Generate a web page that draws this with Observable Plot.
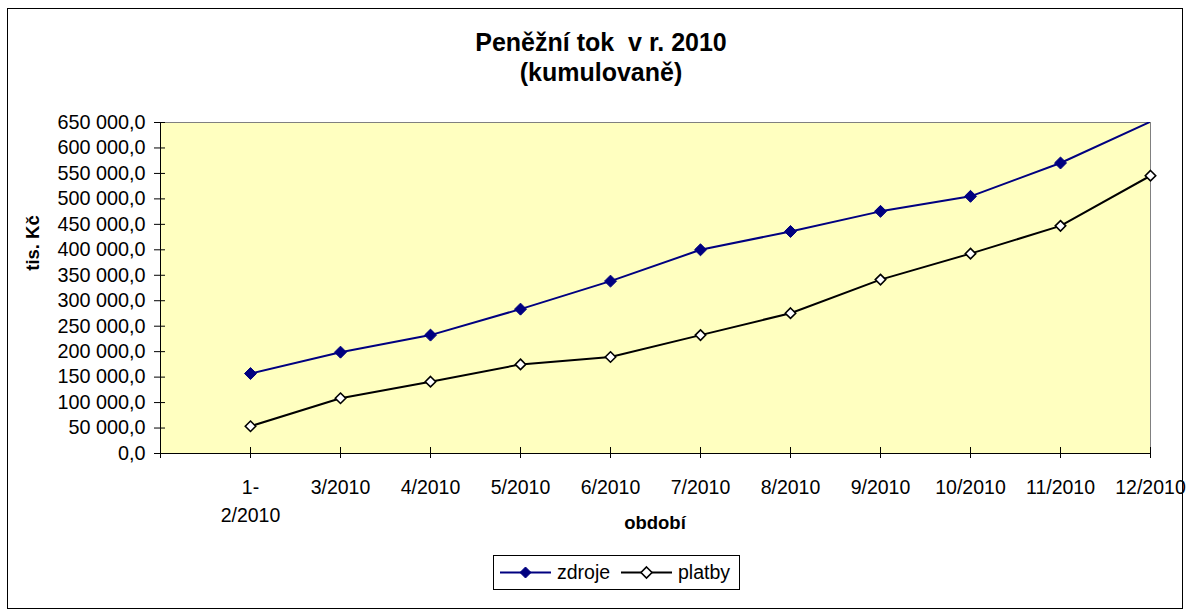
<!DOCTYPE html>
<html>
<head>
<meta charset="utf-8">
<script src="https://cdn.jsdelivr.net/npm/d3@7"></script>
<script src="https://cdn.jsdelivr.net/npm/@observablehq/plot@0.6"></script>
<style>
  body { margin: 0; background: #fff; font-family: Arial, "Liberation Sans", sans-serif; }
  #wrap { position: relative; width: 1190px; height: 616px; overflow: hidden; background: #fff; }
  #border { position: absolute; left: 7px; top: 8px; width: 1176px; height: 601px; border: 1px solid #000; box-sizing: border-box; }
  #chart { position: absolute; left: 0; top: 0; }
  #title { position: absolute; left: 11px; width: 1180px; top: 27px; text-align: center; font-weight: bold; font-size: 25px; line-height: 30px; white-space: pre; color: #000; }
  #ylabel { position: absolute; left: -27px; width: 120px; top: 233px; height: 20px; line-height: 20px; text-align: center; font-weight: bold; font-size: 18.5px; transform: rotate(-90deg); transform-origin: 50% 50%; color: #000; }
  #xlabel { position: absolute; left: 555px; width: 200px; top: 512px; line-height: 22px; text-align: center; font-weight: bold; font-size: 18.5px; color: #000; }
  #legend { position: absolute; left: 493px; top: 555px; width: 247px; height: 35px; border: 1px solid #000; box-sizing: border-box; background: #fff; }
</style>
</head>
<body>
<div id="wrap">
  <div id="border"></div>
  <div id="chart"></div>
  <div id="title"></div>
  <div id="ylabel"></div>
  <div id="xlabel"></div>
  <div id="legend"></div>
</div>
<script>
// ---- data ----
const titleLines = ["Peněžní tok  v r. 2010", "(kumulovaně)"];
const yTitle = "tis. Kč";
const xTitle = "období";
const seriesNames = ["zdroje", "platby"];
const categories = ["1-2/2010", "3/2010", "4/2010", "5/2010", "6/2010", "7/2010", "8/2010", "9/2010", "10/2010", "11/2010", "12/2010"];
const zdroje = [157000, 199000, 232500, 283500, 338500, 400000, 436000, 475500, 505000, 570500, 651500];
const platby = [53500, 108500, 141000, 175000, 189500, 232500, 275500, 341500, 392500, 447000, 545500];
const yTicks = [0, 50000, 100000, 150000, 200000, 250000, 300000, 350000, 400000, 450000, 500000, 550000, 600000, 650000];

// ---- derived tables ----
const zRows = categories.map((c, i) => ({cat: c, value: zdroje[i]}));
const pRows = categories.map((c, i) => ({cat: c, value: platby[i]}));
const yMax = yTicks[yTicks.length - 1];

const fmt = d => d3.format(",.1f")(d).replace(/,/g, " ").replace(".", ",");

const chart = Plot.plot({
  width: 1190,
  height: 616,
  marginLeft: 160,
  marginRight: 40,
  marginTop: 122,
  marginBottom: 163,
  style: {fontFamily: "Arial, 'Liberation Sans', sans-serif", fontSize: "19.8px", background: "transparent", overflow: "visible", color: "#000"},
  x: {type: "point", domain: ["", ...categories], padding: 0},
  y: {domain: [0, yMax]},
  marks: [
    Plot.frame({fill: "#FFFFC0", stroke: "#808080"}),
    Plot.axisY({ticks: yTicks, tickSize: 11, dx: 5, text: null, label: null}),
    Plot.axisY({ticks: yTicks, tickSize: 0, tickPadding: 15, tickFormat: fmt, fontSize: 19.8, label: null}),
    Plot.axisX({tickSize: 11, dy: -6, text: null, label: null}),
    Plot.axisX({tickSize: 0, tickPadding: 21, tickFormat: d => d.replace("-", "-\n"), fontSize: 19.5, lineHeight: 1.42, label: null}),
    Plot.ruleY([0], {stroke: "#000"}),
    Plot.ruleX([""], {stroke: "#000"}),
    Plot.lineY(zRows, {x: "cat", y: "value", stroke: "#000080", strokeWidth: 2, clip: true}),
    Plot.dot(zRows.filter(d => d.value <= yMax), {x: "cat", y: "value", symbol: "diamond2", r: 5.4, fill: "#000080", stroke: "#000080", strokeWidth: 1}),
    Plot.lineY(pRows, {x: "cat", y: "value", stroke: "#000", strokeWidth: 2, clip: true}),
    Plot.dot(pRows, {x: "cat", y: "value", symbol: "diamond2", r: 4.7, fill: "#fff", stroke: "#000", strokeWidth: 1.6})
  ]
});
document.getElementById("chart").appendChild(chart);

document.getElementById("title").textContent = titleLines.join("\n");
document.getElementById("ylabel").textContent = yTitle;
document.getElementById("xlabel").textContent = xTitle;

// legend
const lg = d3.select("#legend").append("svg").attr("width", 245).attr("height", 33)
  .style("position", "absolute").style("left", "0px").style("top", "0px")
  .style("font-family", "Arial, 'Liberation Sans', sans-serif").style("font-size", "19.5px");
const diamond = (cx, cy, h) => `M${cx},${cy - h}L${cx + h},${cy}L${cx},${cy + h}L${cx - h},${cy}Z`;
const items = [
  {name: seriesNames[0], x0: 6, color: "#000080", fill: "#000080", tx: 63},
  {name: seriesNames[1], x0: 127, color: "#000", fill: "#fff", tx: 184}
];
items.forEach(it => {
  lg.append("line").attr("x1", it.x0).attr("x2", it.x0 + 51).attr("y1", 16.5).attr("y2", 16.5)
    .attr("stroke", it.color).attr("stroke-width", 2);
  lg.append("path").attr("d", diamond(it.x0 + 25.5, 16.5, 5.5)).attr("fill", it.fill)
    .attr("stroke", it.color).attr("stroke-width", it.fill === "#fff" ? 1.6 : 1);
  lg.append("text").attr("x", it.tx).attr("y", 23).text(it.name);
});
</script>
</body>
</html>
